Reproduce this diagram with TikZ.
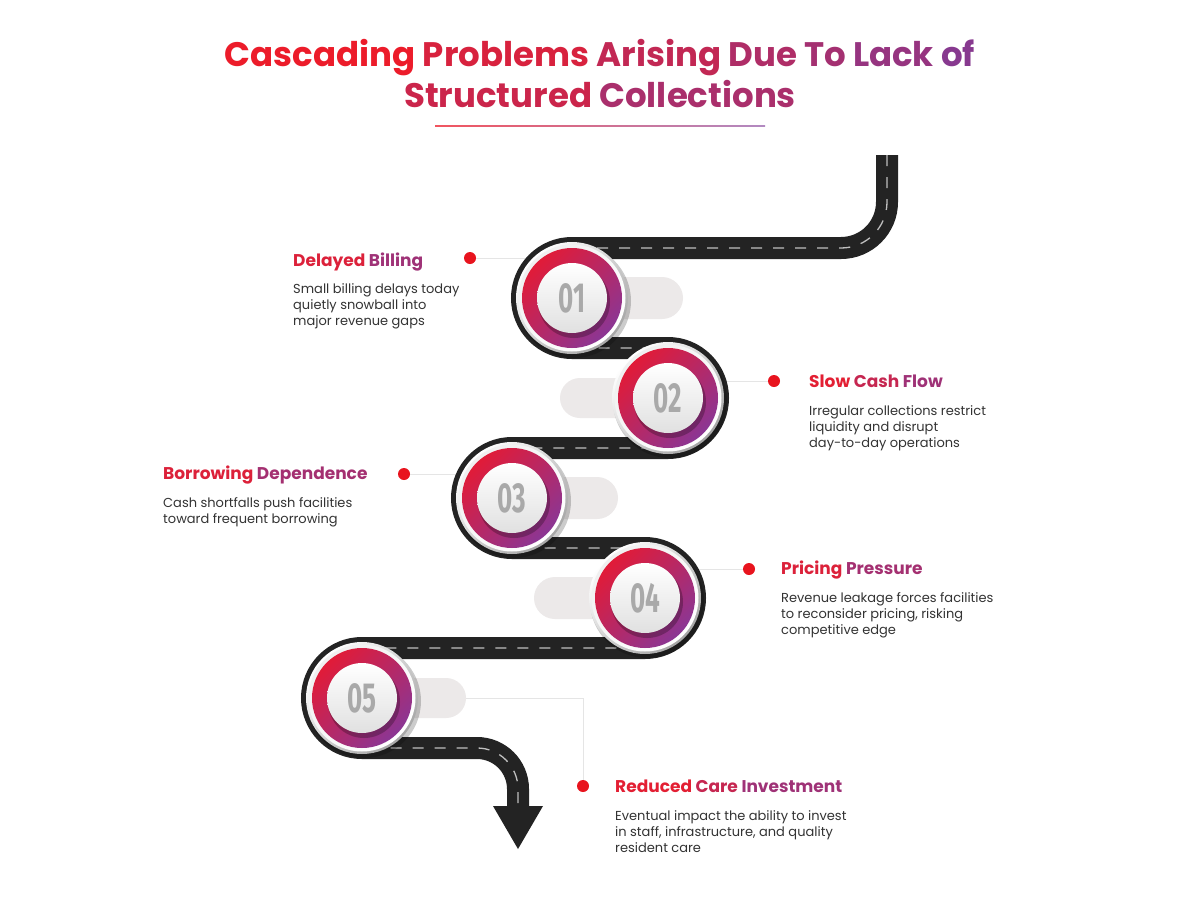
\documentclass[tikz,border=0pt]{standalone}
\usepackage{fontspec}
\setmainfont{Poppins}
\newfontfamily\numfont[FakeStretch=0.62]{Fira Sans}
\usetikzlibrary{positioning,calc}

\definecolor{tred}{HTML}{EC1C2A}
\definecolor{tpurple}{HTML}{7E3B98}
\definecolor{cred}{HTML}{E11B38}
\definecolor{cpurple}{HTML}{8B3694}
\definecolor{roadcol}{HTML}{232323}
\definecolor{pillcol}{HTML}{ECE9E9}
\definecolor{dotred}{HTML}{E8141E}
\definecolor{bodytext}{HTML}{333333}
\definecolor{numgray}{HTML}{A9A9A9}

\newcommand{\gw}[2]{\textcolor{tred!#1!tpurple}{#2}}

\newcommand{\drawStep}[2]{
    \begin{scope}[shift={(#1)}]
        \fill[black, opacity=0.2] (2,3) circle[radius=57];
        \shade[top color=white, bottom color=black!35, shading angle=45] (0,0) circle[radius=56];
        \shade[top color=black!6, bottom color=white, shading angle=45] (0,0) circle[radius=53.5];
        \shade[top color=cred, bottom color=cpurple, shading angle=45] (0,0) circle[radius=50];
        \fill[black, opacity=0.25] (2,4) circle[radius=36];
        \shade[top color=white, bottom color=black!12] (0,0) circle[radius=35];
        \node[numtext] at (0,0) {#2};
    \end{scope}
}

\tikzset{
    road/.style={line width=22pt, draw=roadcol},
    roaddash/.style={line width=1.3pt, draw=black!25, dash pattern=on 11pt off 11pt},
    guide/.style={draw=black!10, line width=0.8pt},
    dot/.style={circle, fill=dotred, inner sep=0pt, minimum size=12pt},
    head/.style={anchor=base west, inner sep=0pt, font=\bfseries\fontsize{17}{20}\selectfont},
    body/.style={anchor=base west, inner sep=0pt, align=left, text=bodytext, font=\fontsize{13}{16}\selectfont},
    numtext/.style={font=\numfont\bfseries\fontsize{42}{42}\selectfont, text=numgray},
    titletext/.style={anchor=base, inner sep=0pt, font=\bfseries\fontsize{34}{34}\selectfont}
}

\def\roadpath{(887,155) -- (887,202) arc[start angle=0, end angle=90, radius=46]
    -- (572,248) arc[start angle=270, end angle=90, radius=50]
    -- (668,348) arc[start angle=-90, end angle=90, radius=50]
    -- (512,448) arc[start angle=270, end angle=90, radius=50]
    -- (645,548) arc[start angle=-90, end angle=90, radius=50]
    -- (362,648) arc[start angle=270, end angle=90, radius=50]
    -- (477,748) arc[start angle=-90, end angle=0, radius=41] -- (518,808)}

\begin{document}
\begin{tikzpicture}[x=1pt,y=-1pt]
    \useasboundingbox[fill=white] (0,0) rectangle (1200,919);

    % --- Variables ---
    \coordinate (c1) at (572,298);
    \coordinate (c2) at (668,398);
    \coordinate (c3) at (512,498);
    \coordinate (c4) at (645,598);
    \coordinate (c5) at (362,698);
    \coordinate (p5) at ($(c5)+(104,0)$);

    % Title
    \node[titletext] (title1) at (600,66) {\gw{100}{Cascading} \gw{82}{Problems} \gw{62}{Arising} \gw{45}{Due} \gw{35}{To} \gw{22}{Lack} \gw{8}{of}};
    \node[titletext] (title2) at (600,107) {\gw{70}{Structured} \gw{40}{Collections}};
    \shade[left color=tred!75!white, right color=tpurple!60!white] (435,125.3) rectangle (765,126.7);

    % Marker dots
    \node[dot] (dot1) at (470,258) {};
    \node[dot] (dot2) at (774,381) {};
    \node[dot] (dot3) at (404,474) {};
    \node[dot] (dot4) at (749,569) {};
    \node[dot] (dot5) at (583,786) {};

    % Guide lines
    \draw[guide] (dot1) -- (dot1 -| c1);
    \draw[guide] (dot2) -- (dot2 -| c2);
    \draw[guide] (dot3) -- (dot3 -| c3);
    \draw[guide] (dot4) -- (dot4 -| c4);
    \draw[guide] (p5) -| (dot5);

    % Road
    \draw[road] \roadpath;
    \draw[roaddash] \roadpath;
    \fill[roadcol] (493,806) -- (543,806) -- (518,849) -- cycle;

    % Pills
    \fill[pillcol, rounded corners=21pt] ($(c1)+(0,-21)$) rectangle ($(c1)+(111,21)$);
    \fill[pillcol, rounded corners=20pt] ($(c2)+(-108,-20)$) rectangle ($(c2)+(0,20)$);
    \fill[pillcol, rounded corners=21pt] ($(c3)+(0,-21)$) rectangle ($(c3)+(106,21)$);
    \fill[pillcol, rounded corners=21pt] ($(c4)+(-111,-21)$) rectangle ($(c4)+(0,21)$);
    \fill[pillcol, rounded corners=20pt] ($(c5)+(0,-20)$) rectangle (p5 |- 0,718);

    % Steps
    \drawStep{c1}{01}
    \drawStep{c2}{02}
    \drawStep{c3}{03}
    \drawStep{c4}{04}
    \drawStep{c5}{05}

    % Texts (body nodes sit on their last line)
    \node[head] (head1) at (293,266) {\gw{85}{Delayed} \gw{30}{Billing}};
    \node[body] (body1) at (293,325) {Small billing delays today\\quietly snowball into\\major revenue gaps};

    \node[head] (head2) at (809,387) {\gw{92}{Slow} \gw{65}{Cash} \gw{30}{Flow}};
    \node[body] (body2) at (809,447) {Irregular collections restrict\\liquidity and disrupt\\day-to-day operations};

    \node[head] (head3) at (163,479) {\gw{85}{Borrowing} \gw{35}{Dependence}};
    \node[body] (body3) at (163,523) {Cash shortfalls push facilities\\toward frequent borrowing};

    \node[head] (head4) at (781,574) {\gw{85}{Pricing} \gw{35}{Pressure}};
    \node[body] (body4) at (781,634) {Revenue leakage forces facilities\\to reconsider pricing, risking\\competitive edge};

    \node[head] (head5) at (615,792) {\gw{92}{Reduced} \gw{65}{Care} \gw{30}{Investment}};
    \node[body] (body5) at (615,852) {Eventual impact the ability to invest\\in staff, infrastructure, and quality\\resident care};
\end{tikzpicture}
\end{document}
